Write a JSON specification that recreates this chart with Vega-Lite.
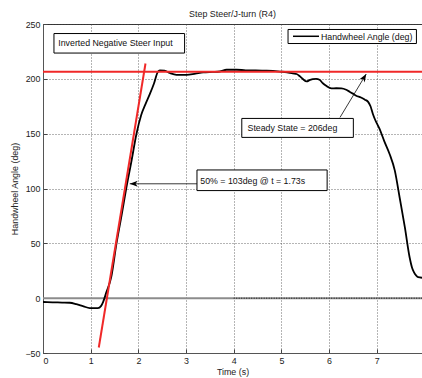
{
  "$schema": "https://vega.github.io/schema/vega-lite/v6.json",
  "width": 379,
  "height": 329,
  "autosize": {"type": "none"},
  "padding": {"left": 43, "top": 24, "right": 0, "bottom": 25},
  "background": "white",
  "config": {
    "font": "Liberation Sans",
    "view": {"stroke": "#333", "strokeWidth": 1},
    "axis": {
      "grid": true,
      "gridDash": [1, 2],
      "gridColor": "#444",
      "gridWidth": 0.8,
      "domainColor": "#555",
      "domainWidth": 1,
      "tickColor": "#444",
      "tickSize": -4,
      "labelPadding": 7,
      "labelFontSize": 8.9,
      "labelColor": "#222",
      "titleFontSize": 8.9,
      "titleFontWeight": "normal",
      "titleColor": "#222"
    }
  },
  "title": {
    "text": "Step Steer/J-turn (R4)",
    "fontSize": 8.9,
    "fontWeight": "normal",
    "color": "#222",
    "offset": 1,
    "anchor": "middle"
  },
  "datasets": {
    "curve": [
      {"t": 0, "v": -3.5}, {"t": 0.2, "v": -3.8}, {"t": 0.4, "v": -4.0}, {"t": 0.56, "v": -4.2},
      {"t": 0.7, "v": -5.5}, {"t": 0.85, "v": -7.5}, {"t": 0.98, "v": -9}, {"t": 1.15, "v": -9},
      {"t": 1.22, "v": -7}, {"t": 1.26, "v": -3.6}, {"t": 1.33, "v": 5.5}, {"t": 1.43, "v": 19},
      {"t": 1.54, "v": 49.5}, {"t": 1.65, "v": 76}, {"t": 1.75, "v": 101}, {"t": 1.86, "v": 126},
      {"t": 1.96, "v": 149.7}, {"t": 2.06, "v": 167}, {"t": 2.15, "v": 177}, {"t": 2.24, "v": 186},
      {"t": 2.33, "v": 196}, {"t": 2.41, "v": 206.5}, {"t": 2.45, "v": 207.7}, {"t": 2.55, "v": 207.4},
      {"t": 2.66, "v": 205.3}, {"t": 2.8, "v": 203.7}, {"t": 3.01, "v": 203.7}, {"t": 3.2, "v": 204.8},
      {"t": 3.36, "v": 205.8}, {"t": 3.55, "v": 206.3}, {"t": 3.71, "v": 206.7}, {"t": 3.85, "v": 208.3},
      {"t": 4.06, "v": 208.3}, {"t": 4.25, "v": 207.8}, {"t": 4.41, "v": 207.7}, {"t": 4.69, "v": 207.4},
      {"t": 4.97, "v": 206.6}, {"t": 5.12, "v": 206}, {"t": 5.24, "v": 204.9}, {"t": 5.32, "v": 204.4},
      {"t": 5.39, "v": 202.2}, {"t": 5.45, "v": 199.8}, {"t": 5.53, "v": 197.6}, {"t": 5.6, "v": 199},
      {"t": 5.66, "v": 199.8}, {"t": 5.73, "v": 200}, {"t": 5.8, "v": 199.2}, {"t": 5.87, "v": 196},
      {"t": 5.94, "v": 193.7}, {"t": 6.05, "v": 191.3}, {"t": 6.15, "v": 191.4}, {"t": 6.26, "v": 191.3},
      {"t": 6.36, "v": 190}, {"t": 6.43, "v": 188.3}, {"t": 6.5, "v": 186.5}, {"t": 6.57, "v": 184.6},
      {"t": 6.67, "v": 183}, {"t": 6.75, "v": 181}, {"t": 6.82, "v": 179}, {"t": 6.87, "v": 175},
      {"t": 6.92, "v": 168}, {"t": 6.96, "v": 163.4}, {"t": 7.06, "v": 154.3}, {"t": 7.16, "v": 143},
      {"t": 7.27, "v": 131.5}, {"t": 7.38, "v": 116.3}, {"t": 7.48, "v": 92}, {"t": 7.59, "v": 64.7},
      {"t": 7.69, "v": 37.3}, {"t": 7.74, "v": 28}, {"t": 7.78, "v": 23.7}, {"t": 7.83, "v": 20.5},
      {"t": 7.87, "v": 19.1}, {"t": 7.95, "v": 18.6}
    ],
    "tangent": [{"t": 1.17, "v": -45}, {"t": 2.15, "v": 214}],
    "boxes": [
      {"t": 0.23, "t2": 2.97, "v": 223.5, "v2": 241.3},
      {"t": 4.17, "t2": 6.51, "v": 146.6, "v2": 163.9},
      {"t": 3.23, "t2": 5.96, "v": 98.1, "v2": 116.9},
      {"t": 5.14, "t2": 7.833, "v": 232.2, "v2": 245}
    ],
    "labels": [
      {"t": 0.32, "v": 232.4, "label": "Inverted Negative Steer Input"},
      {"t": 4.29, "v": 155.5, "label": "Steady State = 206deg"},
      {"t": 3.3, "v": 107.2, "label": "50% = 103deg @ t = 1.73s"},
      {"t": 5.83, "v": 238.6, "label": "Handwheel Angle (deg)"}
    ],
    "arrows": [
      {"t": 6.23, "v": 164.8, "t2": 6.78, "v2": 204.4},
      {"t": 3.23, "v": 104.3, "t2": 1.82, "v2": 104.3}
    ],
    "heads": [
      {"t": 6.78, "v": 204.4, "dir": 31},
      {"t": 1.82, "v": 104.3, "dir": 270}
    ],
    "legendline": [{"t": 5.244, "t2": 5.79, "v": 238.8}]
  },
  "layer": [
    {
      "data": {"values": [{"v": 0}]},
      "mark": {"type": "rule", "color": "#8c8c8c", "strokeWidth": 2},
      "encoding": {
        "y": {
          "field": "v", "type": "quantitative",
          "scale": {"domain": [-50, 250], "nice": false, "zero": false},
          "axis": {"values": [-50, 0, 50, 100, 150, 200, 250], "title": "Handwheel Angle (deg)", "titlePadding": 5}
        }
      }
    },
    {
      "data": {"values": [{"t": 4, "t2": 7.95, "v": 0}]},
      "mark": {"type": "rule", "color": "#111", "strokeWidth": 1, "strokeDash": [1, 1.5]},
      "encoding": {
        "x": {
          "field": "t", "type": "quantitative",
          "scale": {"domain": [0, 7.95], "nice": false, "zero": false},
          "axis": {"values": [0, 1, 2, 3, 4, 5, 6, 7], "title": "Time (s)", "titlePadding": 3}
        },
        "x2": {"field": "t2"},
        "y": {"field": "v", "type": "quantitative"}
      }
    },
    {
      "data": {"name": "curve"},
      "mark": {"type": "line", "strokeWidth": 1.8, "interpolate": "monotone", "color": "#000"},
      "encoding": {
        "x": {"field": "t", "type": "quantitative"},
        "y": {"field": "v", "type": "quantitative"}
      }
    },
    {
      "data": {"values": [{"v": 206.5}]},
      "mark": {"type": "rule", "color": "#f02828", "strokeWidth": 2},
      "encoding": {"y": {"field": "v", "type": "quantitative"}}
    },
    {
      "data": {"name": "tangent"},
      "mark": {"type": "line", "color": "#f02828", "strokeWidth": 2},
      "encoding": {
        "x": {"field": "t", "type": "quantitative"},
        "y": {"field": "v", "type": "quantitative"}
      }
    },
    {
      "data": {"name": "arrows"},
      "mark": {"type": "rule", "color": "#222", "strokeWidth": 0.9},
      "encoding": {
        "x": {"field": "t", "type": "quantitative"},
        "y": {"field": "v", "type": "quantitative"},
        "x2": {"field": "t2"},
        "y2": {"field": "v2"}
      }
    },
    {
      "data": {"name": "heads"},
      "mark": {"type": "point", "shape": "M0,0 L0.38,1 L0,0.72 L-0.38,1 Z", "filled": true, "color": "#000", "size": 256, "opacity": 1},
      "encoding": {
        "x": {"field": "t", "type": "quantitative"},
        "y": {"field": "v", "type": "quantitative"},
        "angle": {"field": "dir", "type": "quantitative", "scale": null}
      }
    },
    {
      "data": {"name": "boxes"},
      "mark": {"type": "rect", "fill": "white", "stroke": "#000", "strokeWidth": 1},
      "encoding": {
        "x": {"field": "t", "type": "quantitative"},
        "x2": {"field": "t2"},
        "y": {"field": "v", "type": "quantitative"},
        "y2": {"field": "v2"}
      }
    },
    {
      "data": {"name": "legendline"},
      "mark": {"type": "rule", "color": "#000", "strokeWidth": 1.5},
      "encoding": {
        "x": {"field": "t", "type": "quantitative"},
        "x2": {"field": "t2"},
        "y": {"field": "v", "type": "quantitative"}
      }
    },
    {
      "data": {"name": "labels"},
      "mark": {"type": "text", "align": "left", "baseline": "middle", "fontSize": 8.8, "color": "#111"},
      "encoding": {
        "x": {"field": "t", "type": "quantitative"},
        "y": {"field": "v", "type": "quantitative"},
        "text": {"field": "label"}
      }
    }
  ]
}
